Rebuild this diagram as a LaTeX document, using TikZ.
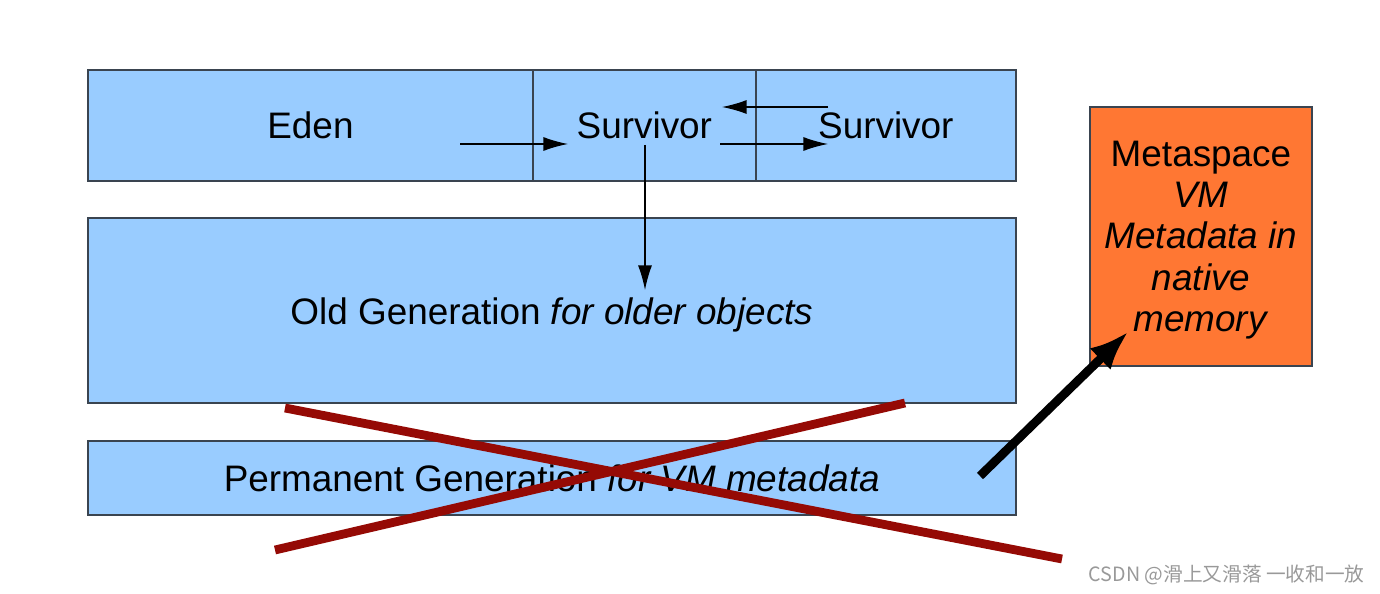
\documentclass[tikz,border=0pt]{standalone}
\usepackage{fontspec}
\setmainfont{Liberation Sans}
\newfontfamily\cjk{Noto Sans CJK SC}
\usetikzlibrary{positioning,arrows.meta}

\definecolor{heapblue}{HTML}{99CCFF}
\definecolor{metaorange}{HTML}{FF7733}
\definecolor{crossred}{HTML}{950A05}
\definecolor{boxline}{HTML}{3A4450}

\newcommand{\lowered}[1]{\raisebox{-2.3pt}[\height][\depth]{#1}}

\tikzset{
  region/.style={draw=boxline, fill=heapblue, line width=0.9pt, inner sep=0pt,
    outer sep=0pt, font=\fontsize{21}{25}\selectfont},
  metabox/.style={draw=boxline, fill=metaorange, line width=0.9pt, inner sep=0pt,
    outer sep=0pt, font=\fontsize{21}{23.5}\selectfont},
  move/.style={-{Latex[length=14pt,width=8pt]}, line width=0.8pt},
  bigmove/.style={-{Latex[length=22pt,width=17pt]}, line width=5pt},
  cross/.style={crossred, line width=5pt},
}

\begin{document}
\begin{tikzpicture}[x=0.02cm, y=-0.02cm]
    \useasboundingbox (0,0) rectangle (1380,594);

    % Define regions
    \node[region, minimum width=8.9cm, minimum height=2.22cm, anchor=north west]
        (eden) at (88,70) {Eden};
    \node[region, minimum width=4.46cm, minimum height=2.22cm, right = 0pt of eden]
        (s0) {Survivor};
    \node[region, minimum width=5.2cm, minimum height=2.22cm, right = 0pt of s0]
        (s1) {Survivor};
    \node[region, minimum width=18.56cm, minimum height=3.7cm, anchor=north west]
        (old) at (88,218) {\lowered{Old Generation \textit{for older objects}}};
    \node[region, minimum width=18.56cm, minimum height=1.48cm, anchor=north west]
        (perm) at (88,441) {Permanent Generation \textit{for VM metadata}};
    \node[metabox, minimum width=4.44cm, minimum height=5.18cm, anchor=north west]
        (meta) at (1090,107) {\lowered{\begin{tabular}{@{}c@{}}
          Metaspace\\\textit{VM}\\\textit{Metadata in}\\\textit{native}\\\textit{memory}
        \end{tabular}}};

    % Arrow ends
    \coordinate (edenout) at (460,144);
    \coordinate (s0in) at (568,144);
    \coordinate (s0out) at (720,144);
    \coordinate (s1in) at (828,144);
    \coordinate (s1out) at (828,107);
    \coordinate (s0back) at (722,107);
    \coordinate (s0down) at (645,145);
    \coordinate (oldin) at (645,290);
    \coordinate (permout) at (980,476);
    \coordinate (metain) at (1128,332);

    % Connect regions
    \draw[move] (edenout) -- (s0in);
    \draw[move] (s0out) -- (s1in);
    \draw[move] (s1out) -- (s0back);
    \draw[move] (s0down) -- (oldin);
    \draw[bigmove] (permout) -- (metain);

    % Cross out
    \coordinate (xa) at (285,408);
    \coordinate (xb) at (1062,559);
    \coordinate (xc) at (275,550);
    \coordinate (xd) at (905,403);
    \draw[cross] (xa) -- (xb);
    \draw[cross] (xc) -- (xd);

    \node[text=gray!80, inner sep=0pt, font=\cjk\fontsize{11.2}{13}\selectfont, anchor=east]
        (mark) at (1365,575) {CSDN @滑上又滑落 一收和一放};
\end{tikzpicture}
\end{document}
